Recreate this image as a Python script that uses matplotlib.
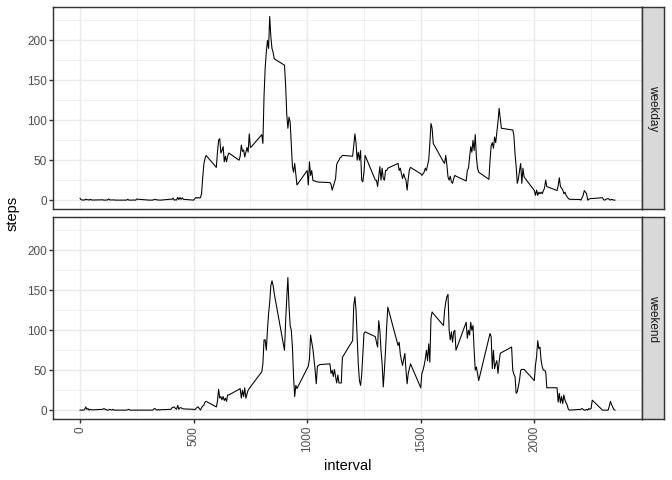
import matplotlib
matplotlib.use("Agg")
import matplotlib.pyplot as plt
from matplotlib.ticker import MultipleLocator

plt.rcParams["font.family"] = ["Liberation Sans", "DejaVu Sans"]

# 5-minute interval codes (hhmm), 288 per day
interval = [h * 100 + m for h in range(24) for m in range(0, 60, 5)]

# mean steps per interval, weekdays (one row per hour)
weekday_steps = [
    2.3, 0.4, 0.2, 0.2, 0.1, 1.2, 0.4, 0.6, 0, 1.0, 0.3, 0.1,
    0.4, 0, 0.1, 0.1, 0, 1.5, 0.3, 0.2, 0.2, 0.3, 0.3, 0,
    0, 0, 1.1, 0, 0, 0.1, 0, 0.2, 0, 0, 1.5, 1.1,
    0, 0, 0, 0, 0, 0.6, 1.0, 0.4, 0.4, 0.1, 0, 0,
    1.2, 1.0, 2.5, 0, 0.4, 0.2, 3.5, 0.7, 3.3, 1.0, 2.8, 1.0,
    0, 1.8, 3.3, 2.5, 3.5, 2.5, 3, 8, 28, 45, 52, 56,
    41, 60, 75, 77, 59, 62, 67, 48, 55, 48, 55, 59,
    50, 55, 69, 61, 63, 54, 60, 66, 60, 83, 66, 67,
    82, 71, 130, 165, 185, 200, 190, 230, 205, 190, 185, 177,
    169, 145, 108, 90, 104, 98, 71, 42, 35, 46, 33, 19,
    37, 19, 48, 31, 37, 25, 24, 24, 23, 23, 22.5, 22.5,
    22, 20, 12.5, 17, 22, 27, 45, 48, 50, 53, 54, 56,
    55, 68, 83, 72, 50, 60, 50, 62, 25, 23, 35, 56,
    25, 25, 17, 30, 42, 25, 40, 27, 25, 37, 37, 40,
    46, 37, 40, 33, 27, 33, 28, 25, 12.5, 27, 38, 41,
    33, 31, 33, 35, 40, 37, 44, 50, 71, 96, 90, 71,
    48, 46, 56, 44, 29, 25, 30, 23, 21, 27, 31, 30,
    24, 37, 40, 54, 67, 60, 75, 62, 82, 54, 40, 35,
    26, 50, 68, 72, 65, 79, 72, 85, 98, 115, 102, 90,
    88, 88, 81, 58, 42, 21, 27, 37, 46, 21, 40, 29,
    12, 6, 12.5, 6, 10, 8, 10, 8, 12, 15, 25, 17,
    12, 18, 28, 17, 15, 13, 8, 10, 6, 4, 2, 1,
    0.8, 0, 3, 6, 12, 10, 8, 0, 1, 2, 2, 2,
    3, 0.5, 0, 1, 1.5, 2, 1, 0, 1, 0.5, 0, 0,
]

# mean steps per interval, weekends (one row per hour)
weekend_steps = [
    0, 0, 0, 0, 0.5, 4, 1, 2, 0, 1, 0.5, 0.3,
    1, 2, 1, 0.5, 0, 0, 1, 0.5, 0, 1, 0, 0,
    0, 0, 0.5, 1, 0, 0, 0, 0, 0, 0, 0, 0,
    0, 0, 0, 0, 0, 1.5, 2, 0.5, 0, 1, 0, 0.5,
    1, 3, 3.5, 4, 2, 1, 6, 1, 3, 3, 2, 1.5,
    1, 0.5, 2, 3.3, 4, 2, 0, 3, 5, 6, 10, 11,
    4, 11, 26, 15, 17, 13, 17, 12, 15, 11, 19, 19,
    26, 27, 15, 25, 17, 28, 15, 20, 25, 27, 29, 31,
    48, 58, 88, 88, 75, 100, 121, 135, 156, 162, 156, 146,
    75, 110, 140, 166, 130, 106, 100, 79, 42, 17, 31, 27,
    52, 55, 64, 94, 85, 77, 64, 50, 33, 55, 56, 57,
    58, 46, 50, 42, 51, 42, 34, 44, 34, 34, 34, 66,
    87, 131, 142, 125, 92, 58, 37, 31, 44, 69, 96, 98,
    92, 85, 79, 112, 100, 75, 58, 29, 50, 75, 105, 129,
    81, 85, 70, 62, 56, 64, 71, 50, 33, 46, 52, 58,
    28, 46, 50, 56, 64, 75, 62, 83, 60, 115, 123, 121,
    106, 125, 135, 142, 145, 100, 88, 98, 85, 98, 100, 75,
    110, 90, 100, 94, 110, 100, 106, 75, 50, 54, 46, 37,
    90, 96, 92, 52, 75, 52, 58, 62, 46, 60, 71, 72,
    79, 50, 45, 42, 21, 23, 30, 38, 50, 51, 51, 51,
    37, 56, 67, 87, 77, 79, 62, 54, 50, 50, 48, 28,
    28, 10, 21, 9, 17, 8, 19, 12.5, 9, 6, 1, 0,
    1, 1, 2, 1, 0, 0, 1, 0, 2, 1, 2, 12.5,
    0, 0, 0, 0, 0, 0, 5, 11, 7, 4, 1, 0,
]

panels = ["weekday", "weekend"]
series = [weekday_steps, weekend_steps]

GRID = "#EBEBEB"
DARK = "#333333"
LW = 1.07

fig = plt.figure(figsize=(7, 5), dpi=96)

left, right, strip_r = 53.3 / 672, 641.7 / 672, 664.3 / 672
rows = [(7.3, 209.3), (217.3, 419.3)]

ymax = max(max(weekday_steps), max(weekend_steps))
ypad = ymax * 0.05
xpad = (interval[-1] - interval[0]) * 0.05

for i, (name, steps) in enumerate(zip(panels, series)):
    top, bot = rows[i]
    y0 = 1 - bot / 480
    h = (bot - top) / 480
    ax = fig.add_axes([left, y0, right - left, h])
    ax.plot(interval, steps, color="black", lw=0.8, zorder=3)
    ax.set_xlim(interval[0] - xpad, interval[-1] + xpad)
    ax.set_ylim(-ypad, ymax + ypad)
    ax.xaxis.set_major_locator(MultipleLocator(500))
    ax.xaxis.set_minor_locator(MultipleLocator(250))
    ax.yaxis.set_major_locator(MultipleLocator(50))
    ax.yaxis.set_minor_locator(MultipleLocator(25))
    ax.grid(which="major", color=GRID, lw=LW, zorder=0)
    ax.grid(which="minor", color=GRID, lw=LW / 2, zorder=0)
    ax.set_axisbelow(True)
    for s in ax.spines.values():
        s.set_color(DARK)
        s.set_linewidth(LW)
        s.set_zorder(4)
    ax.tick_params(which="minor", length=0)
    ax.tick_params(which="major", length=2.75, width=LW, color=DARK,
                   labelcolor="#4D4D4D", labelsize=8.8, pad=2.2)
    if i == 0:
        ax.tick_params(axis="x", which="both", bottom=False, labelbottom=False)
    else:
        for lab in ax.get_xticklabels():
            lab.set_rotation(90)
            lab.set_va("top")
            lab.set_ha("center")

    # facet strip on the right
    sax = fig.add_axes([right, y0, strip_r - right, h])
    sax.set_facecolor("#D9D9D9")
    sax.set_xticks([])
    sax.set_yticks([])
    for s in sax.spines.values():
        s.set_color(DARK)
        s.set_linewidth(LW)
    sax.text(0.5, 0.5, name, rotation=270, ha="center", va="center",
             fontsize=8.8, color="#1A1A1A", transform=sax.transAxes)

fig.text(13 / 672, 1 - 213 / 480, "steps", rotation=90, ha="center",
         va="center", fontsize=11)
fig.text((53.3 + 641.7) / 2 / 672, 1 - 466 / 480, "interval", ha="center",
         va="center", fontsize=11)

fig.savefig("out.png", dpi=96)
